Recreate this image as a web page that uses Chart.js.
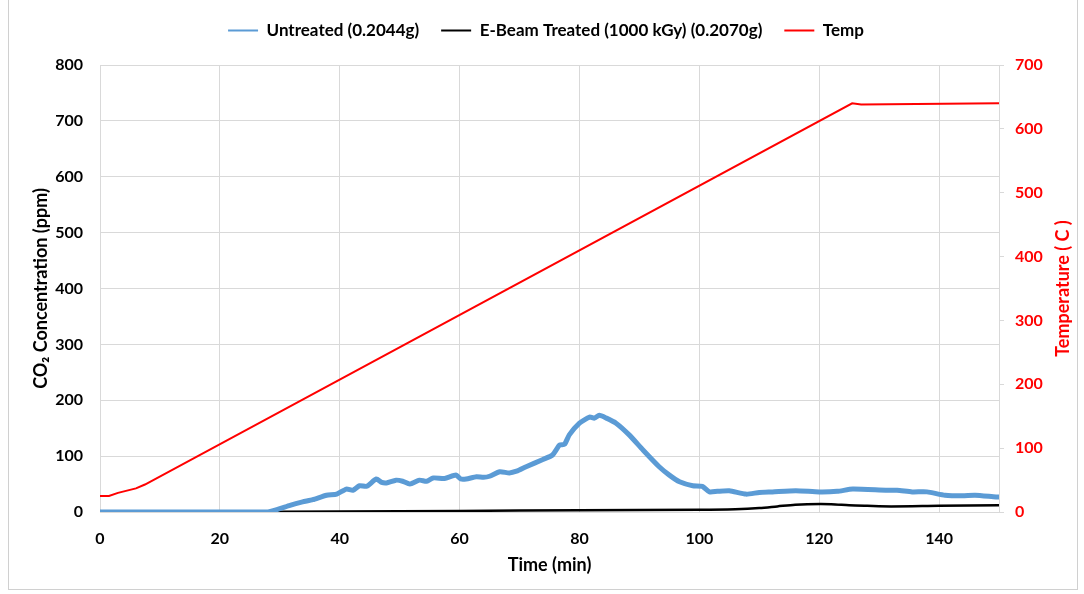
<!DOCTYPE html>
<html>
<head>
<meta charset="utf-8">
<script src="https://cdn.jsdelivr.net/npm/chart.js@4.4.0/dist/chart.umd.min.js"></script>
<style>
  html, body { margin: 0; padding: 0; background: #fff; }
  #wrap { position: absolute; left: 0; top: 0; width: 1084px; height: 594px; }
  #frame { position: absolute; left: 8px; top: -2px; width: 1070px; height: 592px; border: 1px solid #d0d0d0; box-sizing: border-box; }
</style>
</head>
<body>
<div id="wrap">
  <div id="frame"></div>
  <canvas id="chart" width="1084" height="594"></canvas>
</div>
<script>
'use strict';

/* Data */

var labelUntreated = 'Untreated (0.2044g)';
var labelTreated = 'E-Beam Treated (1000 kGy) (0.2070g)';
var labelTemp = 'Temp';

var timeTicks = [0, 20, 40, 60, 80, 100, 120, 140];

// time (min) / CO2 (ppm)
var untreatedTime = [0, 10, 20, 28, 30, 31.7, 33.8, 35.5, 37.8, 39.5, 41.1, 42.2, 43.3, 44.5, 46.1, 47, 47.8, 49.4, 50.5, 51.7, 53.3, 54.5, 55.6, 57.5, 59.4, 60.2, 61.1, 62.8, 64, 65, 66.7, 68.3, 69.5, 71.1, 73.9, 75.5, 76.7, 77.5, 78.3, 80, 81.7, 82.5, 83.3, 84.5, 86.1, 88.3, 90.6, 93.3, 95, 96.7, 98.9, 100.5, 101.7, 103, 105, 107.8, 110, 112.2, 116.1, 120, 123, 125.6, 131.1, 133, 135.5, 138, 141, 143.9, 146, 149.5, 150];
var untreatedCO2 = [0, 0, 0, 0, 6, 12, 18, 22, 30, 32, 41, 39, 47, 46, 59, 53, 52, 57, 55, 50, 57, 55, 61, 60, 66, 59, 59, 63, 62, 64, 72, 70, 73, 81, 94, 102, 120, 121, 138, 159, 170, 168, 173, 168, 159, 138, 111, 81, 66, 54, 47, 46, 36, 37, 38, 32, 35, 36, 38, 36, 37, 41, 39, 39, 36, 36, 30, 29, 30, 27, 27];

var treatedTime = [0, 20, 40, 60, 80, 100, 106, 110, 113, 116, 118, 122, 125, 128, 132, 140, 150];
var treatedCO2 = [0, 0, 1, 2, 3, 4, 5, 7, 10, 13, 14, 14, 12, 11, 10, 11, 12];

// time (min) / temperature (C)
var tempTime = [0, 1.5, 3, 6, 7.5, 125.5, 127, 150];
var tempC = [25, 25, 30, 37, 43, 640, 638, 640];

function toPoints(xs, ys) {
  var pts = [];
  for (var i = 0; i < xs.length; i++) pts.push({ x: xs[i], y: ys[i] });
  return pts;
}

var FONT = 'Lato, "Open Sans", sans-serif';

// push the plot area down below the legend
var legendGap = {
  id: 'legendGap',
  beforeInit: function(chart) {
    var fit = chart.legend.fit;
    chart.legend.fit = function() {
      fit.bind(chart.legend)();
      this.height += 16;
    };
  }
};

// right axis title reads bottom-to-top like the left one
var rightTitle = {
  id: 'rightTitle',
  afterDraw: function(chart) {
    var c = chart.ctx, a = chart.chartArea;
    c.save();
    c.translate(chart.width - 21, (a.top + a.bottom) / 2);
    c.rotate(-Math.PI / 2);
    c.font = 'bold 18px ' + FONT;
    c.fillStyle = '#ff0000';
    c.textAlign = 'center';
    c.textBaseline = 'middle';
    c.fillText('Temperature ( C )', 0, 0);
    c.restore();
  }
};

var ctx = document.getElementById('chart').getContext('2d');
var myChart = new Chart(ctx, {
  type: 'line',
  data: {
    datasets: [{
      label: labelUntreated,
      data: toPoints(untreatedTime, untreatedCO2),
      borderColor: '#5b9bd5',
      backgroundColor: '#5b9bd5',
      borderWidth: 5,
      pointRadius: 0,
      tension: 0.2,
      yAxisID: 'y'
    }, {
      label: labelTreated,
      data: toPoints(treatedTime, treatedCO2),
      borderColor: '#000000',
      backgroundColor: '#000000',
      borderWidth: 2.5,
      pointRadius: 0,
      tension: 0.3,
      yAxisID: 'y'
    }, {
      label: labelTemp,
      data: toPoints(tempTime, tempC),
      borderColor: '#ff0000',
      backgroundColor: '#ff0000',
      borderWidth: 2,
      pointRadius: 0,
      tension: 0,
      yAxisID: 'y2'
    }]
  },
  plugins: [legendGap, rightTitle],
  options: {
    responsive: false,
    animation: false,
    layout: { padding: { left: 8, right: 0, top: 0, bottom: 0 } },
    plugins: {
      legend: {
        position: 'top',
        labels: {
          usePointStyle: true,
          pointStyle: 'line',
          pointStyleWidth: 30,
          padding: 22,
          color: '#000',
          font: { family: FONT, size: 17, weight: 'bold' },
          generateLabels: function(chart) {
            var items = Chart.defaults.plugins.legend.labels.generateLabels(chart);
            items.forEach(function(it) { it.lineWidth = 2; it.pointStyle = 'line'; });
            return items;
          }
        }
      },
      tooltip: { enabled: false }
    },
    scales: {
      x: {
        type: 'linear',
        min: 0,
        max: 150,
        afterBuildTicks: function(axis) {
          axis.ticks = timeTicks.map(function(v) { return { value: v }; });
        },
        grid: { color: '#d9d9d9', drawTicks: false },
        border: { color: '#d9d9d9' },
        ticks: { padding: 17, color: '#000', font: { family: FONT, size: 16, weight: 'bold' }, maxRotation: 0 },
        title: { display: true, text: 'Time (min)', color: '#000', padding: { top: 4, bottom: 18 }, font: { family: FONT, size: 18, weight: 'bold' } },
        afterFit: function(axis) { axis.height = 82; }
      },
      y: {
        position: 'left',
        min: 0,
        max: 800,
        ticks: { stepSize: 100, padding: 17, color: '#000', font: { family: FONT, size: 16, weight: 'bold' } },
        grid: { color: '#d9d9d9', drawTicks: false },
        border: { color: '#d9d9d9' },
        title: { display: true, text: 'CO\u2082 Concentration (ppm)', color: '#000', padding: { top: 22, bottom: 0 }, font: { family: FONT, size: 18, weight: 'bold' } },
        afterFit: function(axis) { axis.width = 92; }
      },
      y2: {
        position: 'right',
        min: 0,
        max: 700,
        ticks: { stepSize: 100, padding: 11, color: '#ff0000', font: { family: FONT, size: 16, weight: 'bold' } },
        grid: { drawOnChartArea: false, color: '#d9d9d9', tickLength: 5 },
        border: { color: '#d9d9d9' },
        afterFit: function(axis) { axis.width = 85; }
      }
    }
  }
});
</script>
</body>
</html>
